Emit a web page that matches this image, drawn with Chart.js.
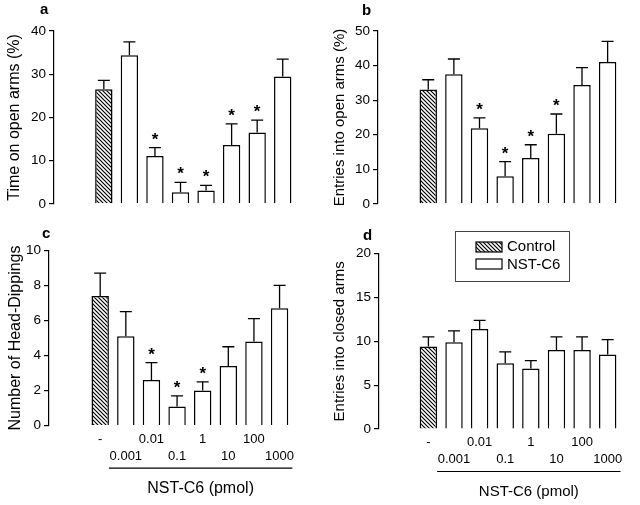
<!DOCTYPE html>
<html>
<head>
<meta charset="utf-8">
<script src="https://cdn.jsdelivr.net/npm/chart.js@4.4.0/dist/chart.umd.min.js"></script>
<style>
  body { margin: 0; background: #fff; width: 640px; height: 505px; position: relative; overflow: hidden; }
  canvas { position: absolute; }
</style>
</head>
<body>
<canvas id="chartA" width="320" height="215" style="left:0;top:0"></canvas>
<canvas id="chartB" width="320" height="215" style="left:320px;top:0"></canvas>
<canvas id="chartC" width="320" height="290" style="left:0;top:215px"></canvas>
<canvas id="chartD" width="320" height="290" style="left:320px;top:215px"></canvas>
<script>
// Data
const doses = ["-", "0.001", "0.01", "0.1", "1", "10", "100", "1000"];

const timeOpenMean = [26.5, 34.4, 11.1, 2.7, 3.1, 13.6, 16.5, 29.5];
const timeOpenSem  = [2.1, 3.1, 1.9, 2.3, 1.2, 4.9, 2.9, 4.0];
const timeOpenSig  = [2, 3, 4, 5, 6];

const entriesOpenMean = [33.1, 37.5, 21.9, 8.0, 13.3, 20.3, 34.4, 41.0];
const entriesOpenSem  = [2.8, 4.4, 3.0, 4.2, 3.8, 5.7, 5.0, 6.0];
const entriesOpenSig  = [2, 3, 4, 5];

const headDipMean = [7.4, 5.1, 2.6, 1.1, 2.0, 3.4, 4.8, 6.7];
const headDipSem  = [1.3, 1.4, 1.0, 0.6, 0.5, 1.1, 1.3, 1.3];
const headDipSig  = [2, 3, 4];

const closedMean = [9.4, 9.9, 11.4, 7.5, 6.9, 9.0, 9.0, 8.5];
const closedSem  = [1.1, 1.3, 1.0, 1.3, 0.9, 1.5, 1.5, 1.7];
const closedSig  = [];

const FONT = "'Liberation Sans', Arial, sans-serif";

// Diagonal hatch for the control bar
function makeHatch() {
  const c = document.createElement("canvas");
  c.width = 4; c.height = 4;
  const g = c.getContext("2d");
  g.fillStyle = "#fff";
  g.fillRect(0, 0, 4, 4);
  g.strokeStyle = "#000";
  g.lineWidth = 1.2;
  g.beginPath();
  g.moveTo(-1, -1); g.lineTo(5, 5);
  g.moveTo(-1, 3); g.lineTo(1, 5);
  g.moveTo(3, -1); g.lineTo(5, 1);
  g.stroke();
  return g.createPattern(c, "repeat");
}
const hatch = makeHatch();

// Error bars, asterisks and panel decorations
const panelPlugin = {
  id: "panelDeco",
  afterDatasetsDraw(chart) {
    const o = chart.options.plugins.panelDeco;
    const ctx = chart.ctx;
    const xs = chart.scales.x, ys = chart.scales.y;
    ctx.save();
    ctx.strokeStyle = "#000";
    ctx.lineWidth = 1.3;
    o.mean.forEach((m, i) => {
      const x = xs.getPixelForValue(i);
      const y0 = ys.getPixelForValue(m);
      const y1 = ys.getPixelForValue(m + o.sem[i]);
      ctx.beginPath();
      ctx.moveTo(x, y0); ctx.lineTo(x, y1);
      ctx.moveTo(x - 6, y1); ctx.lineTo(x + 6, y1);
      ctx.stroke();
      if (o.sig.includes(i)) {
        ctx.fillStyle = "#000";
        ctx.font = "bold 17px " + FONT;
        ctx.textAlign = "center";
        ctx.textBaseline = "alphabetic";
        ctx.fillText("*", x, y1 - 3);
      }
    });
    ctx.restore();
  },
  afterDraw(chart) {
    const o = chart.options.plugins.panelDeco;
    const ctx = chart.ctx;
    const xs = chart.scales.x;
    const area = chart.chartArea;
    ctx.save();
    ctx.fillStyle = "#000";
    ctx.font = "bold 15px " + FONT;
    ctx.textAlign = "left";
    ctx.textBaseline = "alphabetic";
    ctx.fillText(o.letter, o.letterX, o.letterY);

    if (o.bottom) {
      const xa = xs.getPixelForValue(0.34), xb = xs.getPixelForValue(7.5);
      ctx.strokeStyle = "#000";
      ctx.lineWidth = 1.2;
      ctx.beginPath();
      ctx.moveTo(xa, area.bottom + 42.5);
      ctx.lineTo(xb, area.bottom + 42.5);
      ctx.stroke();
      ctx.font = o.nstFont + "px " + FONT;
      ctx.textAlign = "center";
      ctx.textBaseline = "middle";
      ctx.fillText("NST-C6 (pmol)", (xa + xb) / 2, area.bottom + 62.5);
    }

    if (o.legend) {
      ctx.strokeStyle = "#444";
      ctx.lineWidth = 1;
      ctx.strokeRect(135.5, 16.5, 114, 50);
      ctx.lineWidth = 1.2;
      ctx.strokeStyle = "#000";
      ctx.fillStyle = hatch;
      ctx.fillRect(156, 27, 26, 10);
      ctx.strokeRect(156, 27, 26, 10);
      ctx.fillStyle = "#fff";
      ctx.fillRect(156, 44, 26, 10);
      ctx.strokeRect(156, 44, 26, 10);
      ctx.fillStyle = "#000";
      ctx.font = "15px " + FONT;
      ctx.textAlign = "left";
      ctx.textBaseline = "middle";
      ctx.fillText("Control", 187, 32);
      ctx.fillText("NST-C6", 187, 49.5);
    }
    ctx.restore();
  }
};

function makePanel(id, p) {
  const colors = p.mean.map((_, i) => i === 0 ? hatch : "#fff");
  return new Chart(document.getElementById(id), {
    type: "bar",
    data: {
      datasets: [{
        data: p.mean.map((v, i) => ({ x: i, y: v })),
        backgroundColor: colors,
        borderColor: "#000",
        borderWidth: 1.5,
        barPercentage: 0.68,
        categoryPercentage: 1
      }]
    },
    plugins: [panelPlugin],
    options: {
      responsive: false,
      animation: false,
      layout: { padding: p.padding },
      plugins: {
        legend: { display: false },
        tooltip: { enabled: false },
        panelDeco: {
          mean: p.mean, sem: p.sem, sig: p.sig,
          letter: p.letter, letterX: p.letterX, letterY: p.letterY,
          bottom: p.bottom, legend: p.legend, nstFont: p.nstFont
        }
      },
      scales: {
        x: {
          type: "linear",
          min: p.xMin,
          max: 7.5,
          grid: { display: false, drawTicks: false },
          border: { display: false },
          afterBuildTicks: s => { s.ticks = doses.map((_, i) => ({ value: i })); },
          afterFit: s => { s.height = p.bottom ? 42 : 0; },
          ticks: {
            display: !!p.bottom,
            autoSkip: false,
            maxRotation: 0,
            padding: 5,
            color: "#000",
            font: { family: FONT, size: 13, lineHeight: 1.3 },
            callback: v => {
              const lab = doses[v];
              if (lab === undefined) return "";
              return v % 2 === 0 ? [lab, ""] : ["", lab];
            }
          }
        },
        y: {
          min: 0,
          max: p.yMax,
          afterFit: s => { s.width = p.yWidth; },
          grid: { drawOnChartArea: false, drawTicks: true, tickLength: 5, color: "#000", lineWidth: 1.2 },
          border: { display: true, color: "#000", width: 1.2 },
          ticks: {
            stepSize: p.yStep,
            padding: 3,
            color: "#000",
            font: { family: FONT, size: 13.5 }
          },
          title: {
            display: true,
            text: p.yTitle,
            color: "#000",
            font: { family: FONT, size: p.titleSize },
            padding: { top: 5, bottom: 0 }
          }
        }
      }
    }
  });
}

makePanel("chartA", {
  mean: timeOpenMean, sem: timeOpenSem, sig: timeOpenSig,
  yMax: 40, yStep: 10, yWidth: 54, xMin: -1.32,
  padding: { left: 0, top: 31, right: 8.4, bottom: 9 },
  yTitle: "Time on open arms (%)", titleSize: 16,
  letter: "a", letterX: 40, letterY: 14
});

makePanel("chartB", {
  mean: entriesOpenMean, sem: entriesOpenSem, sig: entriesOpenSig,
  yMax: 50, yStep: 10, yWidth: 52, xMin: -1.33,
  padding: { left: 6, top: 31, right: 3.4, bottom: 9 },
  yTitle: "Entries into open arms (%)", titleSize: 15,
  letter: "b", letterX: 42, letterY: 15
});

makePanel("chartC", {
  mean: headDipMean, sem: headDipSem, sig: headDipSig,
  yMax: 10, yStep: 2, yWidth: 48, xMin: -1.365,
  padding: { left: 1, top: 35.3, right: 11.4, bottom: 37.3 },
  yTitle: "Number of Head-Dippings", titleSize: 16,
  letter: "c", letterX: 42, letterY: 22.5,
  bottom: true, nstFont: 16
});

makePanel("chartD", {
  mean: closedMean, sem: closedSem, sig: closedSig,
  yMax: 20, yStep: 5, yWidth: 53, xMin: -1.30,
  padding: { left: 6, top: 38.7, right: 3.4, bottom: 34 },
  yTitle: "Entries into closed arms", titleSize: 15,
  letter: "d", letterX: 43, letterY: 25,
  bottom: true, legend: true, nstFont: 15
});
</script>
</body>
</html>
